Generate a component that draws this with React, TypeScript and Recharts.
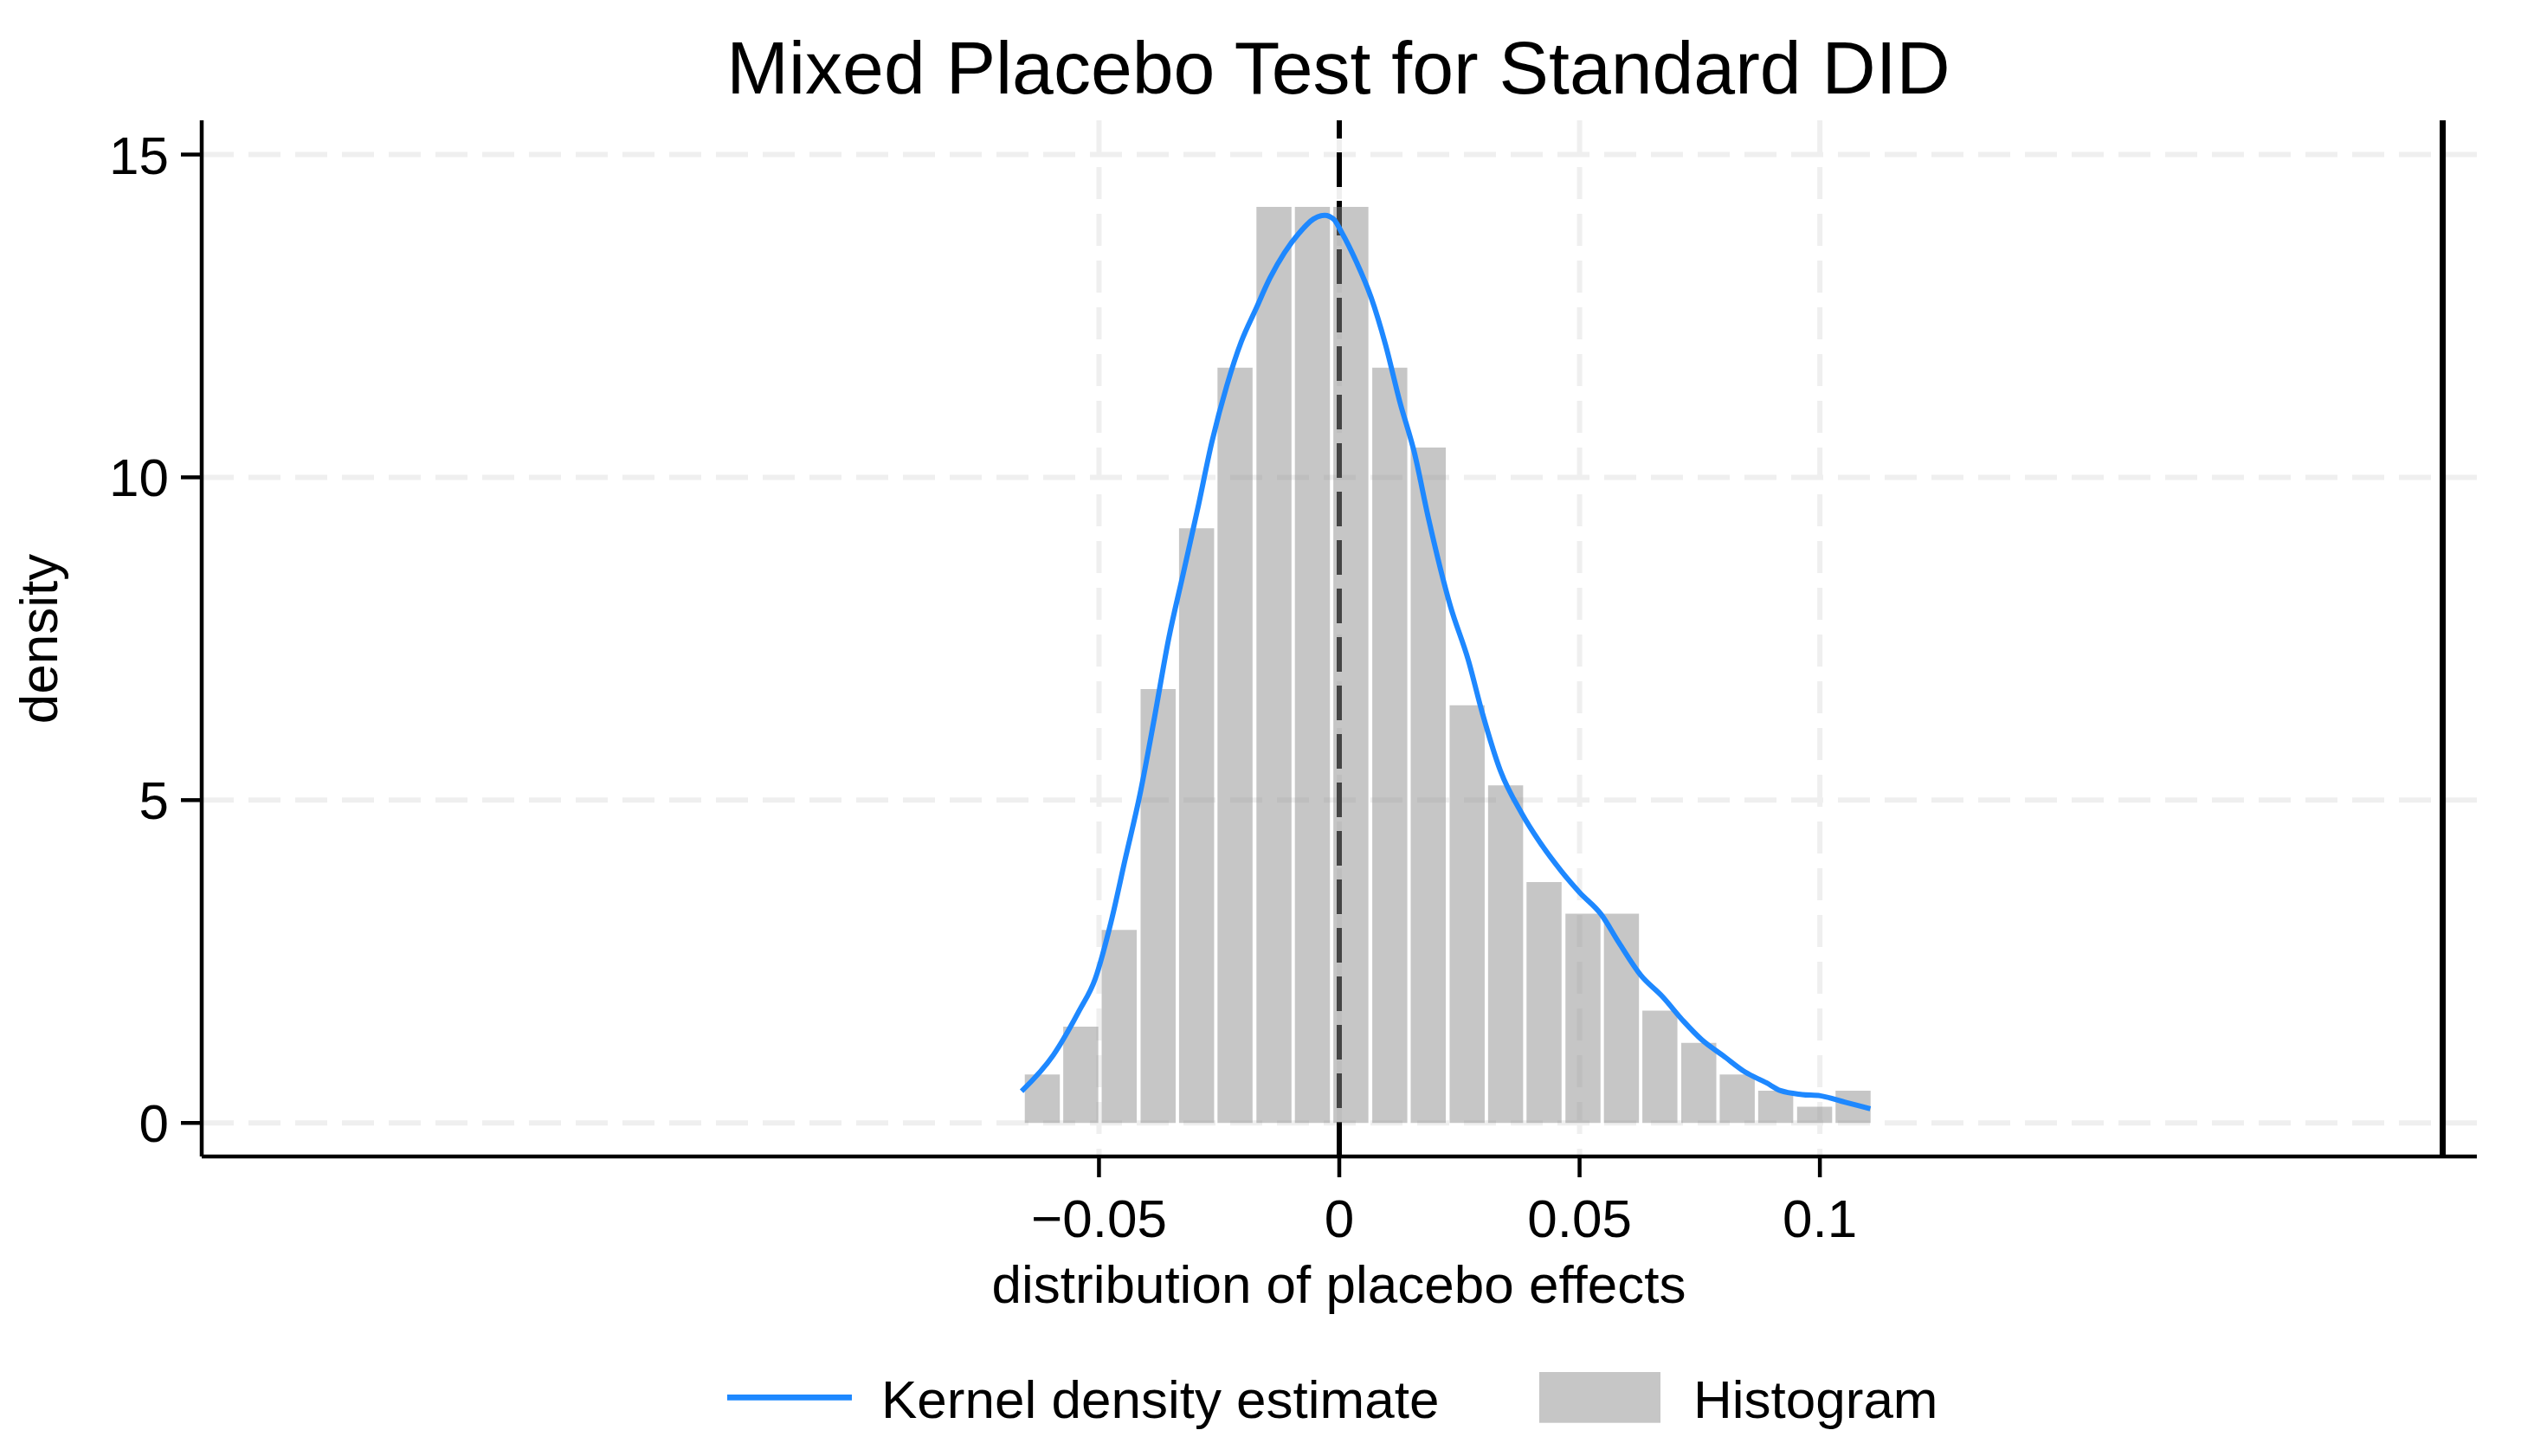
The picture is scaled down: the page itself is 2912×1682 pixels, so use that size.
import React from 'react';
import {
  ComposedChart,
  Bar,
  Line,
  XAxis,
  YAxis,
  CartesianGrid,
  ReferenceLine,
} from 'recharts';

const FONT = '"Liberation Sans", Arial, Helvetica, sans-serif';
const KDE_COLOR = '#1e88ff';
const X_DOMAIN = [-0.2367, 0.2367];

// histogram bins (bin centre, density)
const binCenters = [
  -0.0618, -0.0538, -0.0458, -0.0377, -0.0297, -0.0217, -0.0136, -0.0056,
  0.0024, 0.0105, 0.0185, 0.0266, 0.0346, 0.0426, 0.0507, 0.0587, 0.0667,
  0.0748, 0.0828, 0.0908, 0.0989, 0.1069,
];
const binDensity = [
  0.75, 1.49, 2.99, 6.72, 9.21, 11.7, 14.19, 14.19, 14.19, 11.7, 10.46, 6.47,
  5.23, 3.73, 3.24, 3.24, 1.74, 1.24, 0.75, 0.5, 0.25, 0.5,
];

// kernel density estimate
const kdeX = [
  -0.0661, -0.0595, -0.0541, -0.0508, -0.0475, -0.0445, -0.0415, -0.0385,
  -0.0355, -0.0325, -0.0295, -0.0265, -0.0234, -0.0204, -0.0174, -0.0144,
  -0.0114, -0.0084, -0.0054, -0.003, -0.0012, 0.0006, 0.0036, 0.0066, 0.0096,
  0.0126, 0.0156, 0.0186, 0.0231, 0.0268, 0.0298, 0.0335, 0.038, 0.0418,
  0.0462, 0.05, 0.0545, 0.0582, 0.0627, 0.0672, 0.0717, 0.0754, 0.0799,
  0.0844, 0.0889, 0.0918, 0.0963, 0.1001, 0.1053, 0.1105,
];
const kdeY = [
  0.49, 1.05, 1.74, 2.23, 3.11, 4.1, 5.08, 6.26, 7.5, 8.5, 9.5, 10.55, 11.42,
  12.1, 12.6, 13.09, 13.48, 13.78, 14.0, 14.06, 14.0, 13.78, 13.33, 12.79,
  12.06, 11.17, 10.39, 9.35, 8.01, 7.18, 6.34, 5.46, 4.79, 4.34, 3.9, 3.57,
  3.23, 2.79, 2.29, 1.96, 1.57, 1.29, 1.04, 0.79, 0.62, 0.5, 0.44, 0.42, 0.32,
  0.22,
];

const xTicks = [-0.05, 0, 0.05, 0.1];
const yTicks = [0, 5, 10, 15];
const ACTUAL_EFFECT = 0.2296;

const histData = binCenters.map((x, i) => ({ x, density: binDensity[i] }));
const kdeData = kdeX.map((x, i) => ({ x, kde: kdeY[i] }));

const fmtTick = (v: number) => (v < 0 ? `\u2212${Math.abs(v)}` : `${v}`);

const App = () => {
  return (
    <div
      style={{
        position: 'absolute',
        left: 0,
        top: 0,
        width: 2912,
        height: 1682,
        background: '#fff',
      }}
    >
      <ComposedChart
        width={2912}
        height={1682}
        data={histData}
        margin={{ top: 139, right: 51, bottom: 0, left: 0 }}
      >
        {/* syncWithTicks: grid only at the tick values, not on the plot border */}
        <CartesianGrid
          stroke="#efefef"
          strokeWidth={6}
          strokeDasharray="37 17"
          syncWithTicks
        />
        <XAxis
          dataKey="x"
          type="number"
          domain={X_DOMAIN}
          allowDataOverflow
          ticks={xTicks}
          interval={0}
          tickFormatter={fmtTick}
          height={346}
          tickSize={24}
          tickMargin={25}
          axisLine={{ stroke: '#000', strokeWidth: 4.5 }}
          tickLine={{ stroke: '#000', strokeWidth: 4.5 }}
          tick={{ fontSize: 62, fill: '#000', fontFamily: FONT }}
        />
        {/* hidden axis just for the bars so their band size comes from the bins */}
        <XAxis
          xAxisId="bins"
          dataKey="x"
          type="number"
          domain={X_DOMAIN}
          allowDataOverflow
          hide
        />
        <YAxis
          type="number"
          domain={[-0.52, 15.53]}
          allowDataOverflow
          ticks={yTicks}
          interval={0}
          width={233}
          tickSize={24}
          tickMargin={14}
          axisLine={{ stroke: '#000', strokeWidth: 4.5 }}
          tickLine={{ stroke: '#000', strokeWidth: 4.5 }}
          tick={{ fontSize: 62, fill: '#000', fontFamily: FONT }}
        />
        <ReferenceLine
          x={0}
          stroke="#000"
          strokeWidth={6}
          strokeDasharray="40 16"
          zIndex={250}
        />
        <ReferenceLine x={ACTUAL_EFFECT} stroke="#000" strokeWidth={7} />
        <Bar
          xAxisId="bins"
          dataKey="density"
          barSize={40.5}
          fill="#8b8b8b"
          fillOpacity={0.49}
          isAnimationActive={false}
        />
        <Line
          data={kdeData}
          dataKey="kde"
          type="monotone"
          stroke={KDE_COLOR}
          strokeWidth={6}
          dot={false}
          activeDot={false}
          isAnimationActive={false}
        />
      </ComposedChart>
      <svg
        width={2912}
        height={1682}
        style={{ position: 'absolute', left: 0, top: 0, pointerEvents: 'none' }}
        fontFamily={FONT}
      >
        <text x={1546} y={108} fontSize={86} textAnchor="middle" fill="#000">
          Mixed Placebo Test for Standard DID
        </text>
        <text
          x={66}
          y={738}
          fontSize={62}
          textAnchor="middle"
          fill="#000"
          transform="rotate(-90 66 738)"
        >
          density
        </text>
        <text x={1546.5} y={1505} fontSize={62} textAnchor="middle" fill="#000">
          distribution of placebo effects
        </text>
        <line
          x1={840}
          x2={984}
          y1={1614.3}
          y2={1614.3}
          stroke={KDE_COLOR}
          strokeWidth={6.7}
        />
        <text x={1018} y={1637.7} fontSize={62} fill="#000">
          Kernel density estimate
        </text>
        <rect x={1778} y={1585} width={140} height={58.7} fill="#c6c6c6" />
        <text x={1956} y={1637.7} fontSize={62} fill="#000">
          Histogram
        </text>
      </svg>
    </div>
  );
};

export default App;
